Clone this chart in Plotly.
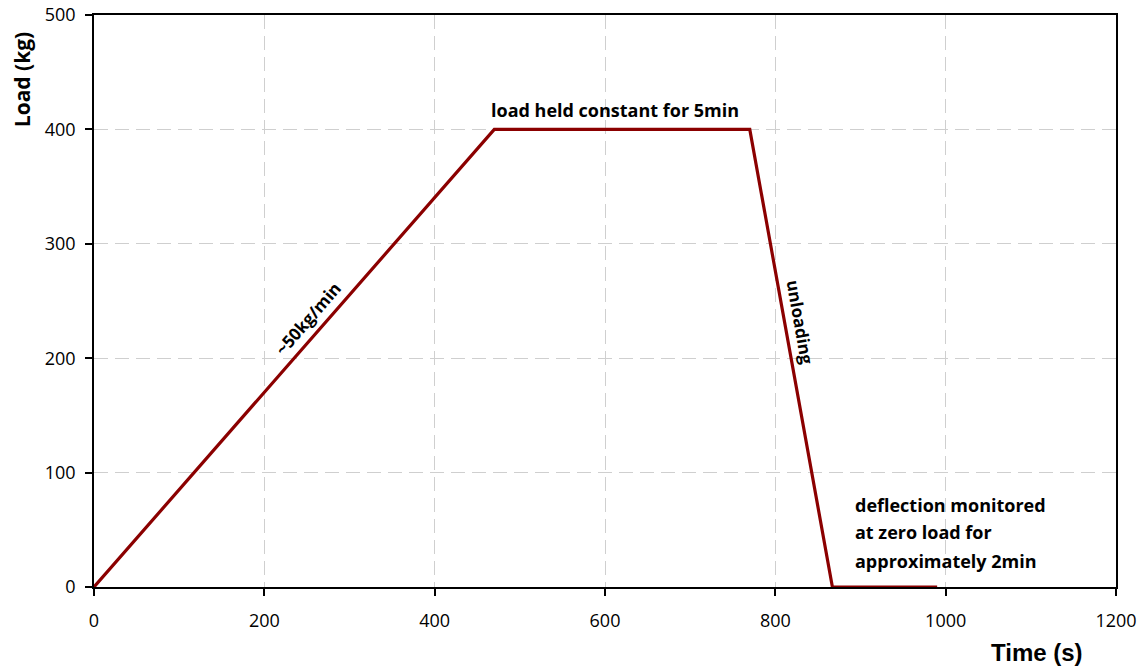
import plotly.graph_objects as go

time_s = [0, 470, 770, 867, 990]
load_kg = [0, 400, 400, 0, 0]

x_ticks = [0, 200, 400, 600, 800, 1000, 1200]
y_ticks = [0, 100, 200, 300, 400, 500]

note_lines = ["deflection monitored", "at zero load for", "approximately 2min"]
note_y = [72, 48, 23]

FONT = "Open Sans"
LINE_COLOR = "#8b0000"

fig = go.Figure()
fig.add_trace(go.Scatter(x=time_s, y=load_kg, mode="lines",
                         line=dict(color=LINE_COLOR, width=3.2), showlegend=False,
                         hoverinfo="skip"))

axis_common = dict(showline=True, linecolor="black", linewidth=1.5, mirror=True,
                   ticks="outside", ticklen=7, tickcolor="black", tickwidth=1.5,
                   showgrid=True, gridcolor="#cfcfcf", griddash="14px,7px", gridwidth=1,
                   zeroline=False, automargin=False,
                   tickfont=dict(family=FONT, size=18, color="black"))

fig.update_xaxes(range=[0, 1200], tickvals=x_ticks, ticklabelstandoff=10, **axis_common)
fig.update_yaxes(range=[0, 500], tickvals=y_ticks, ticklabelstandoff=6, **axis_common)

ann_font = dict(family=FONT, size=18, color="black")
fig.add_annotation(x=612, y=417, text="<b>load held constant for 5min</b>", showarrow=False,
                   font=ann_font)
fig.add_annotation(x=829, y=232, text="<b>unloading</b>", showarrow=False, textangle=80,
                   font=dict(family=FONT, size=17, color="black"))
fig.add_annotation(x=251, y=235, text="<b>~50kg/min</b>", showarrow=False, textangle=-49,
                   font=dict(family=FONT, size=17, color="black"))
for line, yv in zip(note_lines, note_y):
    fig.add_annotation(x=891, y=yv, text=f"<b>{line}</b>", showarrow=False,
                       xanchor="left", yanchor="middle", font=ann_font)
# axis titles
fig.add_annotation(x=1, xref="paper", y=0, yref="paper", xanchor="right", yanchor="top",
                   xshift=-31, yshift=-50, text="<b>Time (s)</b>", showarrow=False,
                   font=dict(family="Liberation Sans", size=24, color="black"))
fig.add_annotation(x=0, xref="paper", y=443, yref="y", xanchor="center", yanchor="middle",
                   xshift=-72, text="<b>Load (kg)</b>", showarrow=False, textangle=-90,
                   font=dict(family=FONT, size=21, color="black"))

fig.update_layout(width=1141, height=670, margin=dict(l=94, r=25, t=15, b=83),
                  plot_bgcolor="white", paper_bgcolor="white")

fig.write_html("out.html", config={"displayModeBar": False},
               post_script="document.body.style.margin='0';document.body.style.overflow='hidden';")
